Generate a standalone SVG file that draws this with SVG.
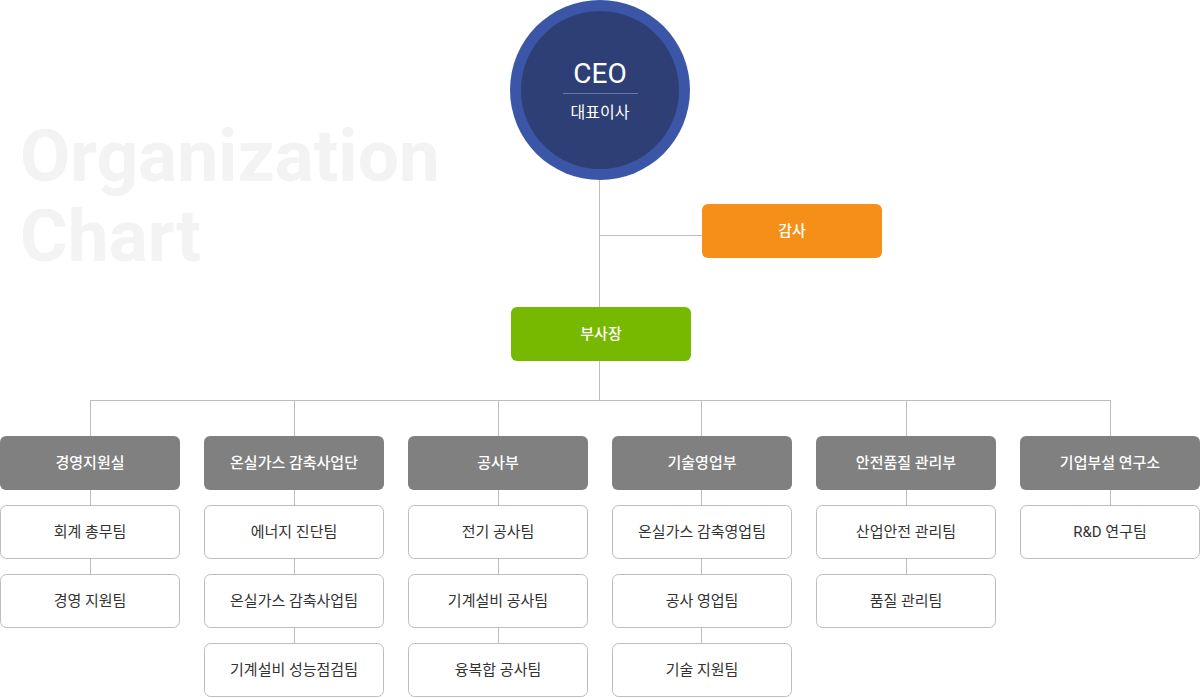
<svg xmlns="http://www.w3.org/2000/svg" width="1200" height="698" viewBox="0 0 1200 698">
<style>
text{font-family:Roboto,"Noto Sans CJK KR",sans-serif;text-anchor:middle}
.ln{stroke:#bdbdbd;stroke-width:1;fill:none}
.hd rect{fill:#808080}
.hd text{fill:#fff;font-size:15px;font-weight:500}
.sb rect{fill:#fff;stroke:#bdbdbd;stroke-width:1}
.sb text{fill:#333;font-size:15px}
.wm{fill:#f3f3f3;font-size:73px;font-weight:bold;text-anchor:start}
</style>
<rect width="1200" height="698" fill="#fff"/>
<text class="wm" x="20" y="181">Organization</text>
<text class="wm" x="20" y="261">Chart</text>
<g id="connectors" class="ln">
<path d="M599.5 170V400M599.5 235.5H702M90.5 400.5H1110.5M90.5 400V436M294.5 400V436M498.5 400V436M701.5 400V436M906.5 400V436M1110.5 400V436"/>
<path d="M90.5 489V574M294.5 489V643M498.5 489V643M701.5 489V643M906.5 489V574M1110.5 489V505"/>
</g>
<g id="ceo">
<circle cx="600" cy="90" r="90" fill="#3b56a6"/>
<circle cx="600" cy="90" r="79" fill="#2d3f74"/>
<text x="600" y="83" fill="#fff" font-size="28">CEO</text>
<line x1="563" y1="93.5" x2="638" y2="93.5" stroke="#6a7aa6"/>
<text x="600" y="118" fill="#fff" font-size="16">대표이사</text>
</g>
<g id="audit"><rect x="702" y="204" width="180" height="54" rx="6" fill="#f68f17"/><text x="792" y="236" fill="#fff" font-size="15" font-weight="500">감사</text></g>
<g id="vp"><rect x="511" y="307" width="180" height="54" rx="6" fill="#77b800"/><text x="601" y="339" fill="#fff" font-size="15" font-weight="500">부사장</text></g>
<g id="h1" class="hd"><rect x="0" y="436" width="180" height="54" rx="6"/><text x="90" y="468">경영지원실</text></g>
<g id="h2" class="hd"><rect x="204" y="436" width="180" height="54" rx="6"/><text x="294" y="468">온실가스 감축사업단</text></g>
<g id="h3" class="hd"><rect x="408" y="436" width="180" height="54" rx="6"/><text x="498" y="468">공사부</text></g>
<g id="h4" class="hd"><rect x="612" y="436" width="180" height="54" rx="6"/><text x="702" y="468">기술영업부</text></g>
<g id="h5" class="hd"><rect x="816" y="436" width="180" height="54" rx="6"/><text x="906" y="468">안전품질 관리부</text></g>
<g id="h6" class="hd"><rect x="1020" y="436" width="180" height="54" rx="6"/><text x="1110" y="468">기업부설 연구소</text></g>
<g id="s11" class="sb"><rect x="0.5" y="505.5" width="179" height="53" rx="6"/><text x="90" y="537">회계 총무팀</text></g>
<g id="s12" class="sb"><rect x="0.5" y="574.5" width="179" height="53" rx="6"/><text x="90" y="606">경영 지원팀</text></g>
<g id="s21" class="sb"><rect x="204.5" y="505.5" width="179" height="53" rx="6"/><text x="294" y="537">에너지 진단팀</text></g>
<g id="s22" class="sb"><rect x="204.5" y="574.5" width="179" height="53" rx="6"/><text x="294" y="606">온실가스 감축사업팀</text></g>
<g id="s23" class="sb"><rect x="204.5" y="643.5" width="179" height="53" rx="6"/><text x="294" y="675">기계설비 성능점검팀</text></g>
<g id="s31" class="sb"><rect x="408.5" y="505.5" width="179" height="53" rx="6"/><text x="498" y="537">전기 공사팀</text></g>
<g id="s32" class="sb"><rect x="408.5" y="574.5" width="179" height="53" rx="6"/><text x="498" y="606">기계설비 공사팀</text></g>
<g id="s33" class="sb"><rect x="408.5" y="643.5" width="179" height="53" rx="6"/><text x="498" y="675">융복합 공사팀</text></g>
<g id="s41" class="sb"><rect x="612.5" y="505.5" width="179" height="53" rx="6"/><text x="702" y="537">온실가스 감축영업팀</text></g>
<g id="s42" class="sb"><rect x="612.5" y="574.5" width="179" height="53" rx="6"/><text x="702" y="606">공사 영업팀</text></g>
<g id="s43" class="sb"><rect x="612.5" y="643.5" width="179" height="53" rx="6"/><text x="702" y="675">기술 지원팀</text></g>
<g id="s51" class="sb"><rect x="816.5" y="505.5" width="179" height="53" rx="6"/><text x="906" y="537">산업안전 관리팀</text></g>
<g id="s52" class="sb"><rect x="816.5" y="574.5" width="179" height="53" rx="6"/><text x="906" y="606">품질 관리팀</text></g>
<g id="s61" class="sb"><rect x="1020.5" y="505.5" width="179" height="53" rx="6"/><text x="1110" y="537">R&amp;D 연구팀</text></g>
</svg>
